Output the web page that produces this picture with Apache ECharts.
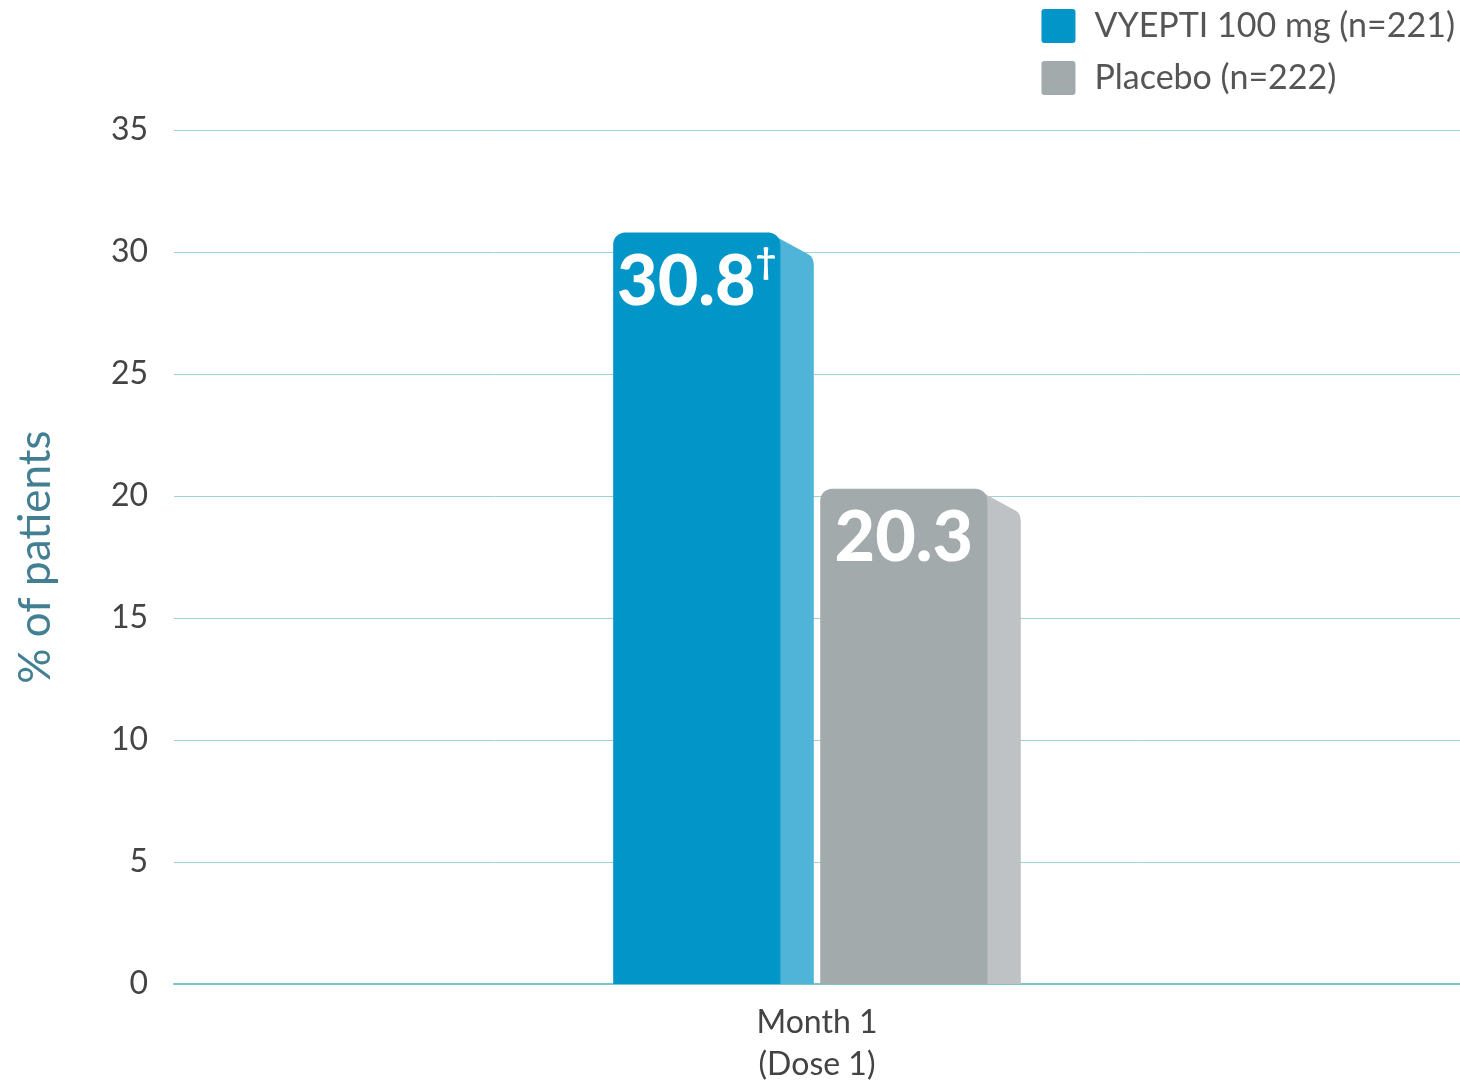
<!DOCTYPE html>
<html>
<head>
<meta charset="utf-8">
<script src="https://cdn.jsdelivr.net/npm/echarts@6/dist/echarts.min.js"></script>
<style>
  html, body { margin: 0; padding: 0; background: #fff; }
  #chart { width: 1460px; height: 1086px; }
</style>
</head>
<body>
<div id="chart"></div>
<script>
// data
const categories = ['Month 1\n(Dose 1)']
const seriesNames = ['VYEPTI 100 mg (n=221)', 'Placebo (n=222)']
const vyeptiValues = [30.8]
const placeboValues = [20.3]
const valueMarks = [['†'], ['']]
const yTicks = { min: 0, max: 35, step: 5 }

const frontColors = ['#0296c8', '#a3aaac']
const sideColors = ['#4fb4d8', '#bec2c4']

const chart = echarts.init(document.getElementById('chart'))

// draws one 3d-looking bar: front face, side face and the value label
function makeRenderItem(idx) {
  return function (params, api) {
    const cat = api.value(0)
    const val = api.value(1)
    const base = api.coord([cat, 0])
    const topPt = api.coord([cat, val])
    const bw = api.size([1, 0])[0]
    const front = bw * 0.13
    const side = bw * 0.026
    const gap = bw * 0.005
    const total = 2 * (front + side) + gap
    const x0 = base[0] - total / 2 + idx * (front + side + gap)
    const top = topPt[1]
    const bottom = base[1]
    const xf = x0 + front
    const xs = xf + side

    const sidePath = 'M' + (xf - 12) + ',' + top +
      ' L' + (xs - 5) + ',' + (top + 22) +
      ' Q' + xs + ',' + (top + 25) + ' ' + xs + ',' + (top + 33) +
      ' L' + xs + ',' + bottom +
      ' L' + (xf - 12) + ',' + bottom + ' Z'

    const mark = valueMarks[idx][params.dataIndex]
    let text = '{v|' + val.toFixed(1) + '}'
    if (mark) text += '{d|' + mark + '}'

    return {
      type: 'group',
      children: [
        {
          type: 'path',
          shape: { pathData: sidePath },
          style: { fill: sideColors[idx] }
        },
        {
          type: 'rect',
          shape: { x: x0, y: top, width: front, height: bottom - top, r: [12, 12, 0, 0] },
          style: { fill: frontColors[idx] }
        },
        {
          type: 'text',
          style: {
            text: text,
            x: x0 + front / 2,
            y: top + 12,
            align: 'center',
            verticalAlign: 'top',
            fill: '#fff',
            rich: {
              v: { fontFamily: 'Lato', fontWeight: 900, fontSize: 70, fill: '#fff', lineHeight: 76 },
              d: { fontFamily: 'Lato', fontWeight: 'bold', fontSize: 36, fill: '#fff', lineHeight: 76, verticalAlign: 'top', padding: [0, 0, 40, 0] }
            }
          }
        }
      ]
    }
  }
}

const allValues = [vyeptiValues, placeboValues]

const option = {
  backgroundColor: '#fff',
  animation: false,
  textStyle: { fontFamily: 'Lato' },
  legend: {
    orient: 'vertical',
    right: 0,
    top: 4,
    icon: 'path://M3,0 H31 Q34,0 34,3 V31 Q34,34 31,34 H3 Q0,34 0,31 V3 Q0,0 3,0 Z',
    itemWidth: 34,
    itemHeight: 34,
    itemGap: 18,
    data: seriesNames,
    textStyle: { fontSize: 34, color: '#555', fontFamily: 'Lato', padding: [0, 0, 0, 14] }
  },
  grid: {
    left: 174,
    right: 0,
    top: 130,
    bottom: 102
  },
  xAxis: {
    type: 'category',
    data: categories,
    axisTick: { show: false },
    axisLine: { lineStyle: { color: '#7cc5d0', width: 2 } },
    axisLabel: { fontSize: 32, color: '#444', lineHeight: 42, margin: 18 }
  },
  yAxis: {
    type: 'value',
    min: yTicks.min,
    max: yTicks.max,
    interval: yTicks.step,
    name: '% of patients',
    nameLocation: 'middle',
    nameGap: 116,
    nameRotate: 90,
    nameTextStyle: { fontSize: 44, color: '#437f93' },
    axisLine: { show: false },
    axisTick: { show: false },
    axisLabel: { fontSize: 32, color: '#444', margin: 26 },
    splitLine: { lineStyle: { color: '#9dd3d8', width: 1 } }
  },
  series: seriesNames.map((name, i) => ({
    name: name,
    type: 'custom',
    renderItem: makeRenderItem(i),
    itemStyle: { color: frontColors[i] },
    encode: { x: 0, y: 1 },
    data: allValues[i].map((v, j) => [j, v])
  }))
}

chart.setOption(option)
</script>
</body>
</html>
